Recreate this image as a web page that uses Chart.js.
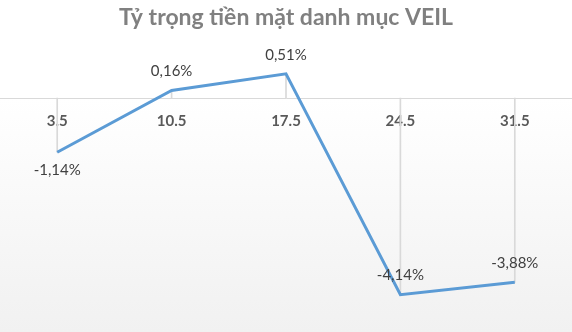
<!DOCTYPE html>
<html>
<head>
<meta charset="utf-8">
<script src="https://cdn.jsdelivr.net/npm/chart.js@4.4.0/dist/chart.umd.min.js"></script>
<style>
  html, body { margin: 0; padding: 0; }
  #wrap { width: 572px; height: 332px; position: relative;
    background: linear-gradient(to bottom, #ffffff 0%, #ffffff 30%, #f1f1f1 100%); }
  canvas { display: block; }
</style>
</head>
<body>
<div id="wrap"><canvas id="c" width="572" height="332"></canvas></div>
<script>
const categories = ['3.5', '10.5', '17.5', '24.5', '31.5'];
const cashWeight = [-1.14, 0.16, 0.51, -4.14, -3.88];
const labelText = ['-1,14%', '0,16%', '0,51%', '-4,14%', '-3,88%'];
const labelAbove = [false, true, true, true, true];
const titleText = 'Tỷ trọng tiền mặt danh mục VEIL';

const dropLines = cashWeight.map(v => [0, v]);

const dataLabelPlugin = {
  id: 'dataLabels',
  afterDatasetsDraw(chart) {
    const meta = chart.getDatasetMeta(1);
    const ctx = chart.ctx;
    ctx.save();
    ctx.font = '15px Lato';
    ctx.fillStyle = '#404040';
    ctx.textAlign = 'center';
    ctx.textBaseline = 'middle';
    meta.data.forEach((pt, i) => {
      const dy = labelAbove[i] ? -19 : 18;
      ctx.fillText(labelText[i], pt.x, pt.y + dy);
    });
    ctx.restore();
  }
};

new Chart(document.getElementById('c'), {
  data: {
    labels: categories,
    datasets: [
      {
        type: 'bar',
        data: dropLines,
        backgroundColor: '#d9d9d9',
        barThickness: 1,
        order: 2
      },
      {
        type: 'line',
        data: cashWeight,
        borderColor: '#5b9bd5',
        borderWidth: 3,
        pointRadius: 0,
        tension: 0,
        fill: false,
        order: 1
      }
    ]
  },
  options: {
    responsive: false,
    animation: false,
    layout: { padding: { left: 0, right: 0, top: 0, bottom: 25 } },
    plugins: {
      legend: { display: false },
      tooltip: { enabled: false },
      title: {
        display: true,
        text: titleText,
        color: '#808080',
        font: { family: 'Lato', size: 23, weight: 'bold' },
        padding: { top: 4, bottom: 19 }
      }
    },
    scales: {
      x: {
        position: { y: 0 },
        offset: true,
        grid: { display: true, color: 'rgba(0,0,0,0)', drawTicks: false },
        border: { display: true, color: '#d9d9d9', width: 1 },
        ticks: {
          color: '#595959',
          font: { family: 'Lato', size: 15, weight: 'bold' },
          padding: 14
        }
      },
      y: {
        display: false,
        min: -4.4,
        max: 1.0
      }
    }
  },
  plugins: [dataLabelPlugin]
});
</script>
</body>
</html>
